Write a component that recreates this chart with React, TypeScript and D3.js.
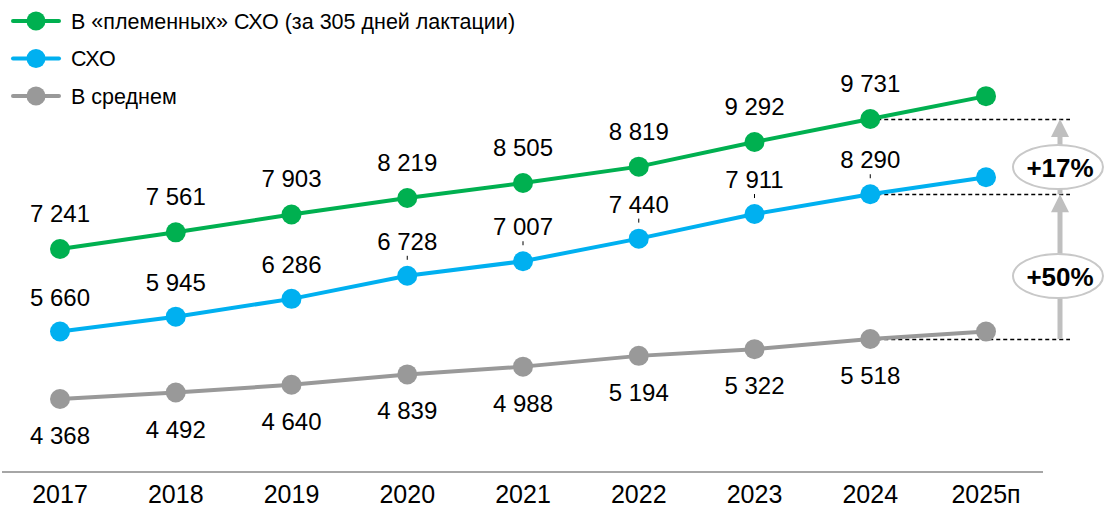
import React from 'react';
import * as d3 from 'd3';

const YEARS = ['2017', '2018', '2019', '2020', '2021', '2022', '2023', '2024', '2025п'];
const PLEM = [7241, 7561, 7903, 8219, 8505, 8819, 9292, 9731, 10170];
const SHO = [5660, 5945, 6286, 6728, 7007, 7440, 7911, 8290, 8615];
const AVG = [4368, 4492, 4640, 4839, 4988, 5194, 5322, 5518, 5660];
// which points get a label and a little leader tick
const SHO_TICKS = [false, false, false, true, true, true, true, true, false];
const LEGEND = ['В «племенных» СХО (за 305 дней лактации)', 'СХО', 'В среднем'];
const GROWTH = ['+17%', '+50%'];

const W = 1104;
const H = 509;
const GREEN = '#00b050';
const BLUE = '#00b0f0';
const GREY = '#999999';
const FONT = 'Liberation Sans, Arial, sans-serif';

const fmt = (v: number) => d3.format(',')(v).replace(/,/g, ' ');

export default function App() {
  const x = d3.scalePoint<string>().domain(YEARS).range([60, 986]);
  const y = d3.scaleLinear().domain([4000, 10000]).range([418.2, 105]);
  const line = d3.line<number>().x((_, i) => x(YEARS[i])!).y(d => y(d));

  const series = [
    { key: 'plem', vals: PLEM, color: GREEN },
    { key: 'sho', vals: SHO, color: BLUE },
    { key: 'avg', vals: AVG, color: GREY },
  ];

  const last = YEARS.length - 2; // 2024 — base of the comparison
  const yP = y(PLEM[last]);
  const yS = y(SHO[last]);
  const yA = y(AVG[last]);
  const ax = 1060;

  return (
    <div style={{ position: 'absolute', left: 0, top: 0 }}>
      <svg width={W} height={H} style={{ display: 'block', fontFamily: FONT }}>
        <rect width={W} height={H} fill="#fff" />

        {/* legend */}
        {series.map((s, i) => (
          <g key={s.key} transform={`translate(0, ${21 + i * 37.5})`}>
            <line x1={13} x2={59} y1={0} y2={0} stroke={s.color} strokeWidth={4} strokeLinecap="round" />
            <circle cx={36} cy={0} r={9.5} fill={s.color} />
            <text x={71} y={7.5} fontSize={21.5} fill="#000">{LEGEND[i]}</text>
          </g>
        ))}

        {/* x axis */}
        <line x1={2} x2={1043} y1={472} y2={472} stroke="#a6a6a6" strokeWidth={2} />
        {YEARS.map(yr => (
          <text key={yr} x={x(yr)} y={503} fontSize={25} textAnchor="middle" fill="#000">{yr}</text>
        ))}

        {/* comparison guides */}
        {[yP, yS, yA].map((yy, i) => (
          <line key={i} x1={x(YEARS[last])} x2={1070} y1={Math.round(yy) + 0.5} y2={Math.round(yy) + 0.5}
            stroke="#000" strokeWidth={1.4} strokeDasharray="4 3" />
        ))}
        <g fill="#bfbfbf" stroke="none">
          <rect x={ax - 2.5} y={yS + 16} width={5} height={yA - yS - 16} />
          <path d={`M${ax},${yS} L${ax + 9},${yS + 18} L${ax - 9},${yS + 18} Z`} />
          <rect x={ax - 2.5} y={yP + 16} width={5} height={yS - yP - 16} />
          <path d={`M${ax},${yP} L${ax + 9},${yP + 18} L${ax - 9},${yP + 18} Z`} />
        </g>
        {[167, 276].map((cy, i) => (
          <g key={cy}>
            <ellipse cx={1058} cy={cy} rx={45} ry={22} fill="#fff" stroke="#c8c8c8" strokeWidth={2} />
            <text x={1060} y={cy + 10} fontSize={26} fontWeight="bold" textAnchor="middle" fill="#000">{GROWTH[i]}</text>
          </g>
        ))}

        {/* lines and dots */}
        {series.map(s => (
          <g key={s.key}>
            <path d={line(s.vals)!} fill="none" stroke={s.color} strokeWidth={4} />
            {s.vals.map((v, i) => (
              <circle key={i} cx={x(YEARS[i])} cy={y(v)} r={10} fill={s.color} />
            ))}
          </g>
        ))}

        {/* data labels (no label for the forecast year) */}
        {PLEM.slice(0, -1).map((v, i) => (
          <text key={'p' + i} x={x(YEARS[i])} y={y(v) - 27} fontSize={24} textAnchor="middle" fill="#000">{fmt(v)}</text>
        ))}
        {SHO.slice(0, -1).map((v, i) => (
          <g key={'s' + i}>
            <text x={x(YEARS[i])} y={y(v) - 26} fontSize={24} textAnchor="middle" fill="#000">{fmt(v)}</text>
            {SHO_TICKS[i] && (
              <line x1={x(YEARS[i])} x2={x(YEARS[i])} y1={y(v) - 20} y2={y(v) - 16} stroke="#000" strokeWidth={1} />
            )}
          </g>
        ))}
        {AVG.slice(0, -1).map((v, i) => (
          <text key={'a' + i} x={x(YEARS[i])} y={y(v) + 45} fontSize={24} textAnchor="middle" fill="#000">{fmt(v)}</text>
        ))}
      </svg>
    </div>
  );
}
